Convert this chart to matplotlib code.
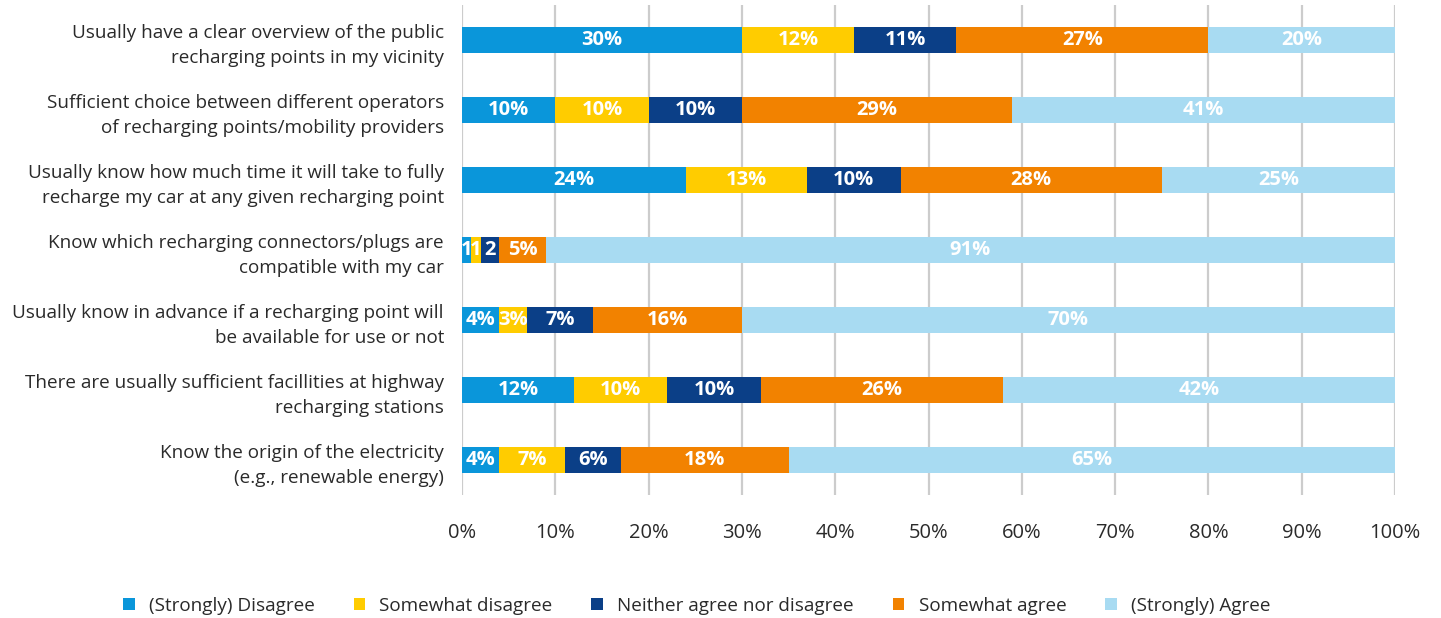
import matplotlib
matplotlib.use("Agg")
import matplotlib.pyplot as plt
import numpy as np

plt.rcParams['font.family'] = ['Open Sans', 'DejaVu Sans']

categories = [
    "Usually have a clear overview of the public\nrecharging points in my vicinity",
    "Sufficient choice between different operators\nof recharging points/mobility providers",
    "Usually know how much time it will take to fully\nrecharge my car at any given recharging point",
    "Know which recharging connectors/plugs are\ncompatible with my car",
    "Usually know in advance if a recharging point will\nbe available for use or not",
    "There are usually sufficient facillities at highway\nrecharging stations",
    "Know the origin of the electricity\n(e.g., renewable energy)",
]
series_names = ["(Strongly) Disagree", "Somewhat disagree", "Neither agree nor disagree",
                "Somewhat agree", "(Strongly) Agree"]
strongly_disagree = [30, 10, 24, 1, 4, 12, 4]
somewhat_disagree = [12, 10, 13, 1, 3, 10, 7]
neither = [11, 10, 10, 2, 7, 10, 6]
somewhat_agree = [27, 29, 28, 5, 16, 26, 18]
strongly_agree = [20, 41, 25, 91, 70, 42, 65]
xticks = [0, 10, 20, 30, 40, 50, 60, 70, 80, 90, 100]

colors = ["#0A96DA", "#FFCC00", "#0B3F87", "#F28200", "#A8DBF2"]

series = [strongly_disagree, somewhat_disagree, neither, somewhat_agree, strongly_agree]

fig = plt.figure(figsize=(14.41, 6.18), dpi=100)
ax = fig.add_axes([462/1441, 1-495/618, (1395-462)/1441, 490/618])

y = np.arange(len(categories))
left = np.zeros(len(categories))
handles = []
for vals, c, name in zip(series, colors, series_names):
    vals = np.array(vals, dtype=float)
    h = ax.barh(y, vals, left=left, height=0.385, color=c, label=name, zorder=3)
    handles.append(h)
    for yi, (l, v) in enumerate(zip(left, vals)):
        txt = f"{int(v)}" if v <= 2 else f"{int(v)}%"
        ax.text(l + v / 2, yi, txt, ha='center', va='center', color='white',
                fontsize=14.5, fontweight='bold', zorder=4)
    left += vals

ax.set_ylim(len(categories) - 0.5, -0.5)
ax.set_xlim(0, 100)
ax.set_yticks(y)
ax.set_yticklabels(categories, fontsize=13.6, color='#2a2a2a', linespacing=1.5)
ax.set_xticks(xticks)
ax.set_xticklabels([f"{t}%" for t in xticks], fontsize=14.5, color='#2a2a2a')
ax.tick_params(axis='y', length=0, pad=13)
ax.tick_params(axis='x', length=0, pad=20)
ax.grid(axis='x', color='#CCCCCC', linewidth=1.6, zorder=0)
for s in ax.spines.values():
    s.set_visible(False)

fig.legend(handles=handles, labels=series_names, loc='center', ncol=5,
           bbox_to_anchor=(0.4835, 1-606/618), frameon=False, fontsize=13.6,
           handlelength=0.62, handleheight=0.62, columnspacing=2.05, handletextpad=0.75,
           labelcolor='#2a2a2a')

fig.savefig("out.png", dpi=100)
